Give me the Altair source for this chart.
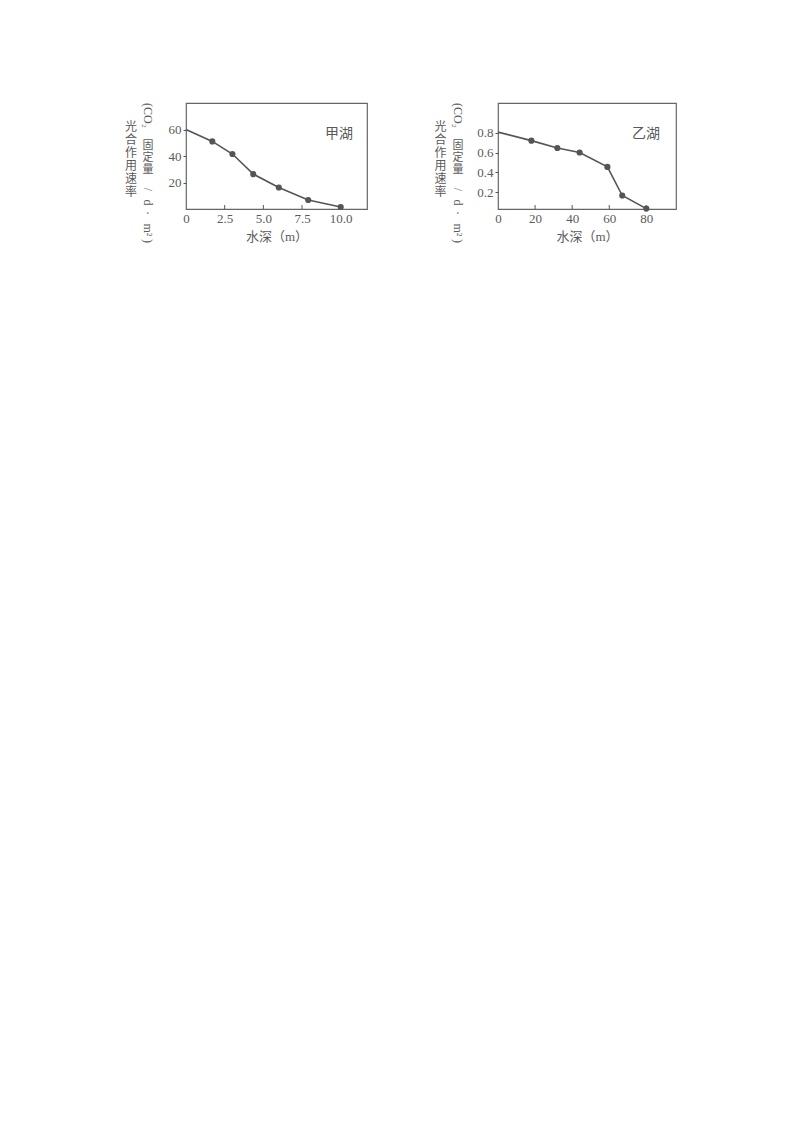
import altair as alt
import pandas as pd

# ---- data ----
jia_depth = [0, 1.7, 3.0, 4.35, 6.0, 7.9, 10.0]
jia_rate = [60, 51, 41.5, 26.3, 16.2, 6.8, 1.5]
yi_depth = [0, 18, 32, 44, 59, 67, 80]
yi_rate = [0.806, 0.72, 0.646, 0.60, 0.455, 0.166, 0.034]

jia_xticks = [0, 2.5, 5.0, 7.5, 10.0]
jia_yticks = [20, 40, 60]
yi_xticks = [0, 20, 40, 60, 80]
yi_yticks = [0.2, 0.4, 0.6, 0.8]

lake_names = ["甲湖", "乙湖"]
x_title = "水深（m）"
y_title_1 = "光合作用速率"
y_title_2a = "(CO₂"
y_title_2b = "固定量"
y_title_2c = ["/", "d", "·", "m²", ")"]

FONT = "Liberation Serif, Noto Sans CJK SC"
INK = "#555555"
TXT = "#5a5a5a"
TAIL_Y = [86.5, 99.5, 110, 127, 138]


def text_at(s, x, y, size, **kw):
    return alt.Chart(pd.DataFrame({"t": [s]})).mark_text(
        fontSize=size, color=TXT, font=FONT, **kw
    ).encode(text="t:N", x=alt.value(x), y=alt.value(y))


def stack(s, x, y0, step, size):
    return [text_at(ch, x, y0 + i * step, size, align="center", baseline="middle")
            for i, ch in enumerate(s)]


def panel(depth, rate, xdom, ydom, xticks, yticks, xfmt, yfmt, name, w, h,
          name_x, name_y, col1_x, col2_x):
    df = pd.DataFrame({"depth": depth, "rate": rate})
    xs = alt.Scale(domain=xdom, nice=False, zero=False)
    ys = alt.Scale(domain=ydom, nice=False, zero=False)
    x = alt.X("depth:Q", scale=xs, title=x_title,
              axis=alt.Axis(values=xticks, labelExpr=xfmt, ticks=False,
                            domain=False, grid=False, labelFlush=False,
                            labelPadding=3, titlePadding=5))
    y = alt.Y("rate:Q", scale=ys, title=None,
              axis=alt.Axis(values=yticks, labelExpr=yfmt, tickSize=3,
                            tickColor=INK, domain=False, grid=False,
                            labelPadding=2))
    line = alt.Chart(df).mark_line(color=INK, strokeWidth=1.6).encode(x=x, y=y)
    pts = alt.Chart(df).transform_filter("datum.depth > 0").mark_point(
        filled=True, color=INK, size=38, opacity=1).encode(x=x, y=y)
    tick_df = pd.DataFrame({"depth": xticks[1:]})
    inner_ticks = alt.Chart(tick_df).mark_rule(color=INK, strokeWidth=1).encode(
        x=alt.X("depth:Q", scale=xs, title=x_title),
        y=alt.value(h), y2=alt.value(h - 4))
    lab = text_at(name, name_x, name_y, 14, align="center", baseline="middle")
    layers = [inner_ticks, line, pts, lab]
    layers += stack(y_title_1, col1_x, 24, 13, 12)
    layers.append(text_at(y_title_2a, col2_x, 0, 12, align="left",
                          baseline="middle", angle=90))
    layers += stack(y_title_2b, col2_x, 43, 12, 11)
    for piece, yy in zip(y_title_2c, TAIL_Y):
        layers.append(text_at(piece, col2_x, yy, 12, align="center",
                              baseline="middle", angle=90))
    return alt.layer(*layers).properties(width=w, height=h)


left = panel(jia_depth, jia_rate, [0, 11.7], [0, 80], jia_xticks, jia_yticks,
             "datum.value == 0 ? '0' : format(datum.value, '.1f')",
             "format(datum.value, 'd')", lake_names[0], 181, 106,
             153, 31, -55, -38)
right = panel(yi_depth, yi_rate, [0, 96], [0.03, 1.1], yi_xticks, yi_yticks,
              "format(datum.value, 'd')",
              "format(datum.value, '.1f')", lake_names[1], 178, 106,
              148, 31, -57.5, -40)

chart = alt.hconcat(left, right, spacing=65).properties(
    padding={"left": 116, "top": 94, "right": 5, "bottom": 5},
    background="white"
).configure_view(stroke="#666666", strokeWidth=1.2).configure_axis(
    labelFont=FONT, titleFont=FONT, labelFontSize=13, titleFontSize=13,
    labelColor=TXT, titleColor=TXT, titleFontWeight="normal"
)

chart.save("out.html", embed_options={"renderer": "svg", "actions": False})
